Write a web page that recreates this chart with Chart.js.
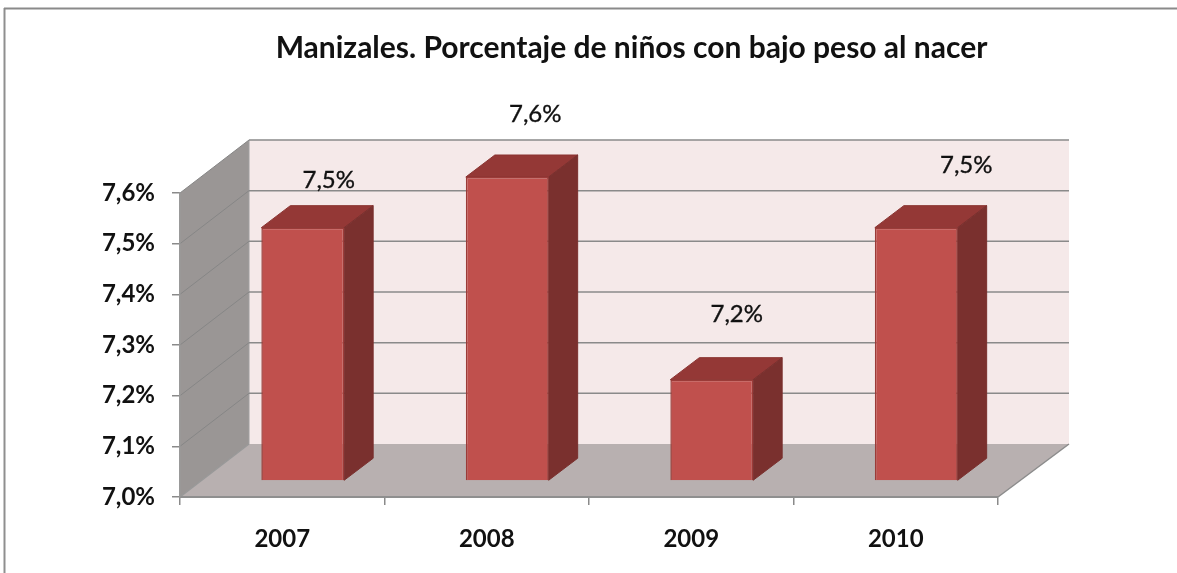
<!DOCTYPE html>
<html><head><meta charset="utf-8">
<style>html,body{margin:0;padding:0;background:#fff}canvas{display:block;filter:blur(0.5px)}</style>
<script src="https://cdn.jsdelivr.net/npm/chart.js@4"></script>
</head><body><canvas id="c" width="1177" height="573"></canvas>
<script>
const categories = ['2007','2008','2009','2010'];
const values = [7.5,7.6,7.2,7.5];
const axisMin = 7.0, axisMax = 7.6, axisStep = 0.1;
const titleText = 'Manizales. Porcentaje de niños con bajo peso al nacer';
const labelDx = [26,28,25,50];
const labelDy = [-47,-63,-65,-62];
const fmt = v => Number(v).toFixed(1).replace('.',',') + '%';
const FONT = 'Lato';
const WALL = {dxL:69, dxR:71, dy:53};
const BAR = {dx:20.5, dy:16, sx:29, sy:22};

function poly(ctx, pts, fill, stroke, lw){
  ctx.beginPath();
  pts.forEach((p,i)=> i?ctx.lineTo(p[0],p[1]):ctx.moveTo(p[0],p[1]));
  ctx.closePath();
  if(fill){ctx.fillStyle=fill;ctx.fill();}
  if(stroke){ctx.strokeStyle=stroke;ctx.lineWidth=lw||1;ctx.stroke();}
}
function line(ctx,x1,y1,x2,y2,c,w){
  ctx.beginPath();ctx.moveTo(x1,y1);ctx.lineTo(x2,y2);ctx.strokeStyle=c;ctx.lineWidth=w;ctx.stroke();
}
const scene = {
  id:'scene',
  afterLayout(chart){
    chart.titleBlock.left += 132.5; chart.titleBlock.right += 132.5;
  },
  beforeDraw(chart){
    const ctx=chart.ctx, a=chart.chartArea, y=chart.scales.y;
    ctx.save();
    ctx.fillStyle='#fff';ctx.fillRect(0,0,chart.width,chart.height);
    line(ctx,4.5,8,4.5,573,'#8f8f8f',2);
    line(ctx,4,8.5,1177,8.5,'#8a8a8a',2);
    const L=a.left,R=a.right,T=a.top,B=a.bottom;
    const bl=L+WALL.dxL, br=R+WALL.dxR, d=WALL.dy;
    poly(ctx,[[bl,T-d],[br,T-d],[br,B-d],[bl,B-d]],'#f5e9e9');
    poly(ctx,[[L,T],[bl,T-d],[bl,B-d],[L,B]],'#9a9695');
    poly(ctx,[[L,B],[bl,B-d],[br,B-d],[R,B]],'#b8b0b0');
    line(ctx,L,B,bl,B-d,'#989898',1.5);
    line(ctx,bl,T-d,bl,B-d,'#a0a0a0',1);
    line(ctx,R,B,br,B-d,'#8c8c8c',1.5);
    y.ticks.forEach(t=>{
      const py=y.getPixelForValue(t.value);
      if(t.value<=axisMin+1e-9) return;
      line(ctx,L,py,bl,py-d,'#868686',1);
      line(ctx,bl,py-d,br,py-d,'#8a8a8a',1.5);
    });
    ctx.restore();
  },
  beforeDatasetDraw(chart,args){
    const ctx=chart.ctx;
    ctx.save();
    ctx.translate(BAR.dx,-BAR.dy);
    args.meta.data.forEach(el=>{
      const p=el.getProps(['x','y','base','width'],true);
      const l=p.x-p.width/2, r=p.x+p.width/2;
      poly(ctx,[[l,p.y],[l+BAR.sx,p.y-BAR.sy],[r+BAR.sx,p.y-BAR.sy],[r,p.y]],'#943836','#8a3331',1);
      poly(ctx,[[r,p.y],[r+BAR.sx,p.y-BAR.sy],[r+BAR.sx,p.base-BAR.sy],[r,p.base]],'#7a302e','#7a302e',1);
    });
  },
  afterDatasetDraw(chart){ chart.ctx.restore(); },
  afterDraw(chart){
    const ctx=chart.ctx, meta=chart.getDatasetMeta(0);
    ctx.save();
    ctx.font='24px '+FONT;
    ctx.fillStyle='#111';ctx.strokeStyle='#111';ctx.lineWidth=0.35;ctx.textAlign='center';ctx.textBaseline='middle';
    meta.data.forEach((el,i)=>{
      const tx=el.x+BAR.dx+labelDx[i], ty=el.y-BAR.dy+labelDy[i];
      ctx.fillText(fmt(values[i]),tx,ty);
      ctx.strokeText(fmt(values[i]),tx,ty);
    });
    ctx.restore();
  }
};
new Chart(document.getElementById('c'),{
  type:'bar',
  data:{labels:categories,datasets:[{data:values,base:axisMin,backgroundColor:'#c0504d',borderColor:'#9b3b38',borderWidth:1.5,
    barPercentage:0.405,categoryPercentage:1}]},
  plugins:[scene],
  options:{
    responsive:false,animation:false,
    layout:{padding:{left:0,right:179,top:0,bottom:0}},
    plugins:{
      legend:{display:false},tooltip:{enabled:false},
      title:{display:true,text:titleText,color:'#111',font:{family:FONT,size:30,weight:'bold',lineHeight:1.2},
        padding:{top:30,bottom:127}}
    },
    scales:{
      x:{
        afterFit(s){s.height=76;},
        grid:{drawOnChartArea:false,tickLength:8,color:'#8a8a8a',lineWidth:1.5},
        border:{color:'#8f8f8f',width:2},
        ticks:{color:'#111',font:{family:FONT,size:24,weight:'bold'},padding:20,maxRotation:0}
      },
      y:{
        min:axisMin,max:axisMax,
        afterFit(s){s.width=180;},
        grid:{drawOnChartArea:false,tickLength:8,color:'#8a8a8a',lineWidth:1.5},
        border:{color:'#999',width:1.5},
        ticks:{stepSize:axisStep,color:'#111',font:{family:FONT,size:24,weight:'bold'},padding:17,callback:v=>fmt(v)}
      }
    }
  }
});
</script></body></html>
